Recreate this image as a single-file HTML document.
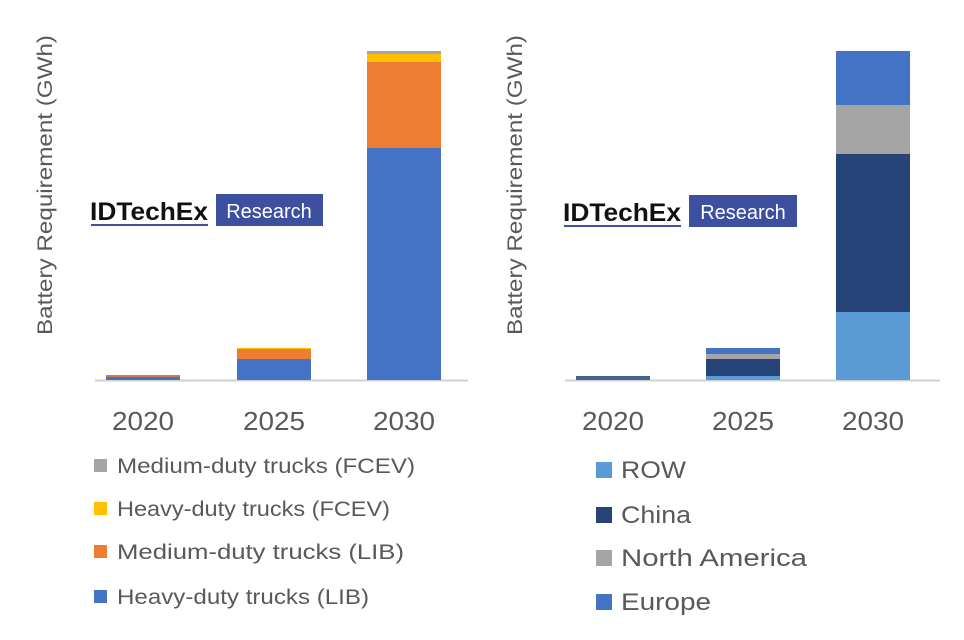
<!DOCTYPE html>
<html><head><meta charset="utf-8"><style>
html,body{margin:0;padding:0;background:#fff;}
svg{display:block;font-family:"Liberation Sans",sans-serif;}
.t{fill:#595959;}
</style></head><body>
<svg width="964" height="640" viewBox="0 0 964 640">
<rect width="964" height="640" fill="#fff"/>
<!-- LEFT -->
<text class="t" font-size="21" transform="translate(52,185) rotate(-90)" text-anchor="middle" textLength="300" lengthAdjust="spacingAndGlyphs">Battery Requirement (GWh)</text>
<line x1="95" y1="380.5" x2="468" y2="380.5" stroke="#d0d0d0" stroke-width="2"/>
<rect x="106" y="377" width="74" height="3" fill="#4472c4"/>
<rect x="106" y="375" width="74" height="2" fill="#d07a45"/>
<rect x="237" y="359" width="74" height="21" fill="#4472c4"/>
<rect x="237" y="349" width="74" height="10" fill="#ed7d31"/>
<rect x="237" y="348" width="74" height="1" fill="#ffc000"/>
<rect x="367" y="148" width="74" height="232" fill="#4472c4"/>
<rect x="367" y="62" width="74" height="86" fill="#ed7d31"/>
<rect x="367" y="54" width="74" height="8" fill="#ffc000"/>
<rect x="367" y="51" width="74" height="3" fill="#a5a5a5"/>
<g class="t" font-size="26" text-anchor="middle">
<text x="143" y="430" textLength="62" lengthAdjust="spacingAndGlyphs">2020</text><text x="274" y="430" textLength="62" lengthAdjust="spacingAndGlyphs">2025</text><text x="404" y="430" textLength="62" lengthAdjust="spacingAndGlyphs">2030</text>
</g>
<g font-size="21" class="t">
<rect x="94" y="459" width="13" height="13" fill="#a5a5a5"/><text x="117" y="473" textLength="298" lengthAdjust="spacingAndGlyphs">Medium-duty trucks (FCEV)</text>
<rect x="94" y="502" width="13" height="13" fill="#ffc000"/><text x="117" y="516" textLength="273" lengthAdjust="spacingAndGlyphs">Heavy-duty trucks (FCEV)</text>
<rect x="94" y="545" width="13" height="13" fill="#ed7d31"/><text x="117" y="559" textLength="287" lengthAdjust="spacingAndGlyphs">Medium-duty trucks (LIB)</text>
<rect x="94" y="590" width="13" height="13" fill="#4472c4"/><text x="117" y="604" textLength="252" lengthAdjust="spacingAndGlyphs">Heavy-duty trucks (LIB)</text>
</g>
<text x="90" y="220" font-size="25" font-weight="bold" fill="#111" textLength="118" lengthAdjust="spacingAndGlyphs">IDTechEx</text>
<rect x="91" y="224" width="117" height="2" fill="#3f51a0"/>
<rect x="216" y="194" width="107" height="32" fill="#3d4f9f"/>
<text x="269" y="218" font-size="20" fill="#fff" text-anchor="middle">Research</text>
<!-- RIGHT -->
<text class="t" font-size="21" transform="translate(522,185) rotate(-90)" text-anchor="middle" textLength="300" lengthAdjust="spacingAndGlyphs">Battery Requirement (GWh)</text>
<line x1="565" y1="380.5" x2="940" y2="380.5" stroke="#d0d0d0" stroke-width="2"/>
<rect x="576" y="376" width="74" height="4" fill="#44618f"/>
<rect x="706" y="376" width="74" height="4" fill="#5b9bd5"/>
<rect x="706" y="359" width="74" height="17" fill="#264478"/>
<rect x="706" y="354" width="74" height="5" fill="#a5a5a5"/>
<rect x="706" y="348" width="74" height="6" fill="#4472c4"/>
<rect x="836" y="312" width="74" height="68" fill="#5b9bd5"/>
<rect x="836" y="154" width="74" height="158" fill="#264478"/>
<rect x="836" y="105" width="74" height="49" fill="#a5a5a5"/>
<rect x="836" y="51" width="74" height="54" fill="#4472c4"/>
<g class="t" font-size="26" text-anchor="middle">
<text x="613" y="430" textLength="62" lengthAdjust="spacingAndGlyphs">2020</text><text x="743" y="430" textLength="62" lengthAdjust="spacingAndGlyphs">2025</text><text x="873" y="430" textLength="62" lengthAdjust="spacingAndGlyphs">2030</text>
</g>
<g font-size="24" class="t">
<rect x="596" y="462" width="16" height="16" fill="#5b9bd5"/><text x="621" y="478" textLength="65" lengthAdjust="spacingAndGlyphs">ROW</text>
<rect x="596" y="507" width="16" height="16" fill="#264478"/><text x="621" y="523" textLength="70" lengthAdjust="spacingAndGlyphs">China</text>
<rect x="596" y="550" width="16" height="16" fill="#a5a5a5"/><text x="621" y="566" textLength="186" lengthAdjust="spacingAndGlyphs">North America</text>
<rect x="596" y="594" width="16" height="16" fill="#4472c4"/><text x="621" y="610" textLength="90" lengthAdjust="spacingAndGlyphs">Europe</text>
</g>
<text x="563" y="221" font-size="25" font-weight="bold" fill="#111" textLength="118" lengthAdjust="spacingAndGlyphs">IDTechEx</text>
<rect x="564" y="225" width="117" height="2" fill="#3f51a0"/>
<rect x="689" y="195" width="108" height="32" fill="#3d4f9f"/>
<text x="743" y="219" font-size="20" fill="#fff" text-anchor="middle">Research</text>
</svg>
</body></html>
